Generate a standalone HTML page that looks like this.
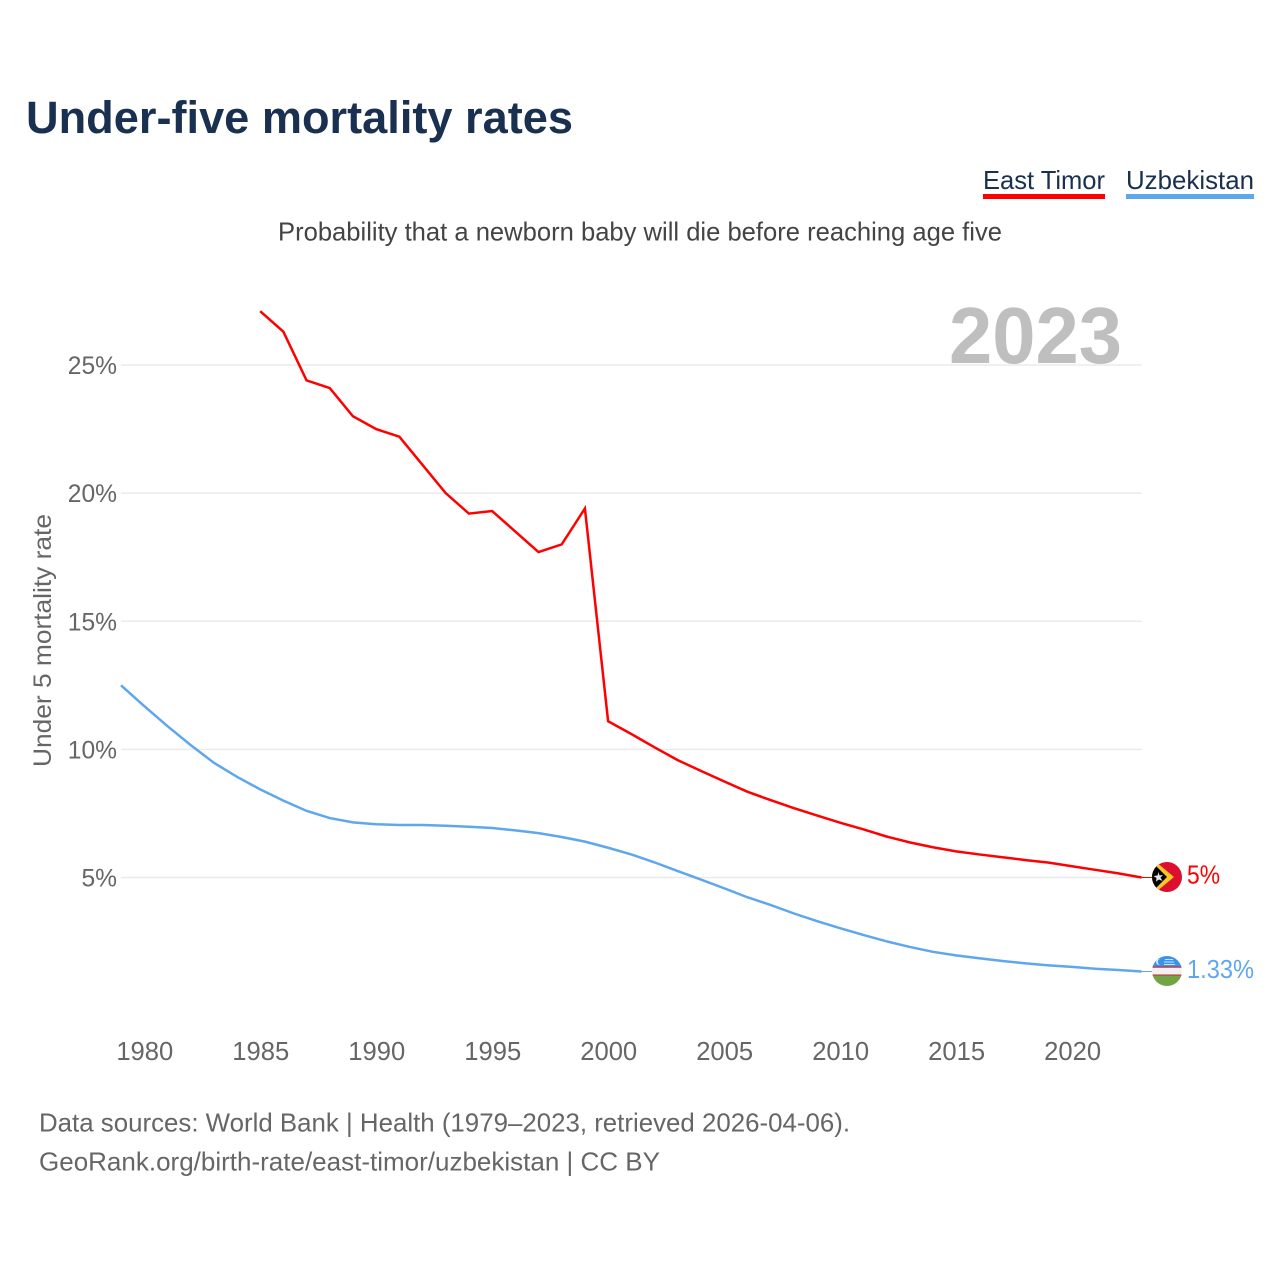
<!DOCTYPE html>
<html lang="en">
<head>
<meta charset="utf-8">
<title>Under-five mortality rates</title>
<style>
html,body{margin:0;padding:0;background:#fff;width:1280px;height:1280px;overflow:hidden}
svg{display:block}
text{font-family:"Liberation Sans",sans-serif}
</style>
</head>
<body>
<svg id="chart" xmlns="http://www.w3.org/2000/svg" width="1280" height="1280" viewBox="0 0 1280 1280">
  <defs>
    <clipPath id="flag-clip-tl"><circle cx="1167" cy="877" r="15"/></clipPath>
    <clipPath id="flag-clip-uz"><circle cx="1167" cy="971" r="15"/></clipPath>
  </defs>
  <text x="26" y="133" font-size="45" font-weight="700" fill="#1a3050" textLength="547" lengthAdjust="spacingAndGlyphs">Under-five mortality rates</text>
  <g>
    <text x="983" y="189" font-size="26" fill="#1a3050" textLength="122" lengthAdjust="spacingAndGlyphs">East Timor</text>
    <rect x="983" y="194" width="122" height="5" fill="#ff0000"/>
  </g>
  <g>
    <text x="1126" y="189" font-size="26" fill="#1a3050" textLength="128" lengthAdjust="spacingAndGlyphs">Uzbekistan</text>
    <rect x="1126" y="194" width="128" height="5" fill="#5ea7ee"/>
  </g>
  <text x="278" y="240.5" font-size="26" fill="#444444" textLength="724" lengthAdjust="spacingAndGlyphs">Probability that a newborn baby will die before reaching age five</text>
  <g id="grid"></g>
  <g id="yticks"></g>
  <g id="xticks"></g>
  <text x="949" y="363" font-size="80" font-weight="700" fill="#bfbfbf" textLength="173" lengthAdjust="spacingAndGlyphs">2023</text>
  <text transform="translate(51,767) rotate(-90)" x="0" y="0" font-size="25" fill="#666666" textLength="253" lengthAdjust="spacingAndGlyphs">Under 5 mortality rate</text>
  <g id="series"></g>

  <g clip-path="url(#flag-clip-tl)">
    <rect x="1150" y="860" width="34" height="34" fill="#dc0f2f"/>
    <polygon points="1150,857 1174,877 1150,897" fill="#ffc726"/>
    <polygon points="1150,860 1167,877 1150,894" fill="#000000"/>
    <polygon points="1158.5,872 1159.5,875.5 1163,875 1160.5,877.5 1162.5,881 1159,879.5 1156,881.5 1156.5,878 1153.5,876 1157.5,875.5" fill="#e6e6e6"/>
  </g>
  <g clip-path="url(#flag-clip-uz)">
    <rect x="1150" y="954" width="34" height="13" fill="#3a93ea"/>
    <rect x="1150" y="967" width="34" height="8" fill="#f4f0f0"/>
    <rect x="1150" y="966.5" width="34" height="1.2" fill="#c8243a"/>
    <rect x="1150" y="974.5" width="34" height="1.2" fill="#c8243a"/>
    <rect x="1150" y="975.5" width="34" height="12" fill="#6fa544"/>
    <circle cx="1159" cy="962" r="2.8" fill="#ffffff"/>
    <circle cx="1160.2" cy="962" r="2.6" fill="#3a93ea"/>
    <rect x="1165" y="959" width="8" height="1" fill="#cfe3f8"/>
    <rect x="1164" y="961.5" width="10" height="1" fill="#cfe3f8"/>
    <rect x="1164" y="964" width="11" height="1" fill="#cfe3f8"/>
  </g>
  <text x="1187" y="883.5" font-size="25.5" fill="#ff0000" textLength="33" lengthAdjust="spacingAndGlyphs">5%</text>
  <text x="1187" y="978" font-size="25.5" fill="#5ea7ee" textLength="67" lengthAdjust="spacingAndGlyphs">1.33%</text>

  <text x="39" y="1131.5" font-size="26" fill="#666666" textLength="811" lengthAdjust="spacingAndGlyphs">Data sources: World Bank | Health (1979–2023, retrieved 2026-04-06).</text>
  <text x="39" y="1170.5" font-size="26" fill="#666666" textLength="621" lengthAdjust="spacingAndGlyphs">GeoRank.org/birth-rate/east-timor/uzbekistan | CC BY</text>
</svg>
<script>
var yTickValues = [5, 10, 15, 20, 25];
var yTickLabels = ['5%', '10%', '15%', '20%', '25%'];
var xTickYears = [1980, 1985, 1990, 1995, 2000, 2005, 2010, 2015, 2020];
var xTickLabels = ['1980', '1985', '1990', '1995', '2000', '2005', '2010', '2015', '2020'];
var eastTimorStartYear = 1985;
var eastTimorValues = [27.1, 26.3, 24.4, 24.1, 23.0, 22.5, 22.2, 21.1, 20.0, 19.2, 19.3, 18.5, 17.7, 18.0, 19.4, 11.1, 10.6, 10.08, 9.58, 9.16, 8.75, 8.35, 8.02, 7.71, 7.42, 7.14, 6.88, 6.6, 6.37, 6.18, 6.02, 5.9, 5.79, 5.68, 5.58, 5.44, 5.3, 5.16, 5.0];
var uzbekistanStartYear = 1979;
var uzbekistanValues = [12.5, 11.69, 10.91, 10.17, 9.48, 8.93, 8.44, 8.0, 7.6, 7.32, 7.15, 7.08, 7.05, 7.05, 7.02, 6.98, 6.93, 6.84, 6.73, 6.58, 6.4, 6.16, 5.9, 5.59, 5.25, 4.92, 4.58, 4.23, 3.93, 3.6, 3.3, 3.02, 2.76, 2.51, 2.29, 2.1, 1.96, 1.85, 1.74, 1.65, 1.57, 1.51, 1.44, 1.39, 1.33];

var NS = 'http://www.w3.org/2000/svg';
function xScale(year) { return 121 + (year - 1979) * (1141.6 - 121) / 44; }
function yScale(value) { return 877.5 - (value - 5) * (877.5 - 365) / 20; }
function linePath(startYear, values) {
  return values.map(function (v, i) {
    return (i ? 'L' : 'M') + xScale(startYear + i).toFixed(2) + ' ' + yScale(v).toFixed(2);
  }).join(' ');
}

var gridGroup = document.getElementById('grid');
var yGroup = document.getElementById('yticks');
yTickValues.forEach(function (v, i) {
  var gridLine = document.createElementNS(NS, 'line');
  
  
  gridLine.setAttribute('x1', 121);
  gridLine.setAttribute('x2', 1141.6);
  gridLine.setAttribute('y1', yScale(v));
  gridLine.setAttribute('y2', yScale(v));
  gridLine.setAttribute('stroke', '#ebebeb');
  gridLine.setAttribute('stroke-width', 1.5);
  gridGroup.appendChild(gridLine);

  var yLabel = document.createElementNS(NS, 'text');
  
  
  yLabel.setAttribute('x', 117);
  yLabel.setAttribute('y', yScale(v) + 9);
  yLabel.setAttribute('text-anchor', 'end');
  yLabel.setAttribute('font-size', 24.6);
  yLabel.setAttribute('fill', '#666666');
  yLabel.textContent = yTickLabels[i];
  yGroup.appendChild(yLabel);
});

var xGroup = document.getElementById('xticks');
xTickYears.forEach(function (year, i) {
  var xLabel = document.createElementNS(NS, 'text');
  
  
  xLabel.setAttribute('x', xScale(year) + 0.6);
  xLabel.setAttribute('y', 1060);
  xLabel.setAttribute('text-anchor', 'middle');
  xLabel.setAttribute('font-size', 25.6);
  xLabel.setAttribute('fill', '#666666');
  xLabel.textContent = xTickLabels[i];
  xGroup.appendChild(xLabel);
});

var seriesGroup = document.getElementById('series');

var eastTimorLine = document.createElementNS(NS, 'path');


eastTimorLine.setAttribute('d', linePath(eastTimorStartYear, eastTimorValues));
eastTimorLine.setAttribute('fill', 'none');
eastTimorLine.setAttribute('stroke', '#ff0000');
eastTimorLine.setAttribute('stroke-width', 2.5);
eastTimorLine.setAttribute('stroke-linejoin', 'miter');
seriesGroup.appendChild(eastTimorLine);

var uzbekistanLine = document.createElementNS(NS, 'path');


uzbekistanLine.setAttribute('d', linePath(uzbekistanStartYear, uzbekistanValues));
uzbekistanLine.setAttribute('fill', 'none');
uzbekistanLine.setAttribute('stroke', '#5ea7ee');
uzbekistanLine.setAttribute('stroke-width', 2.5);
uzbekistanLine.setAttribute('stroke-linejoin', 'miter');
seriesGroup.appendChild(uzbekistanLine);

var eastTimorLeader = document.createElementNS(NS, 'line');


eastTimorLeader.setAttribute('x1', xScale(2023));
eastTimorLeader.setAttribute('x2', 1152);
eastTimorLeader.setAttribute('y1', yScale(eastTimorValues[eastTimorValues.length - 1]));
eastTimorLeader.setAttribute('y2', yScale(eastTimorValues[eastTimorValues.length - 1]));
eastTimorLeader.setAttribute('stroke', '#ff0000');
eastTimorLeader.setAttribute('stroke-width', 1);
seriesGroup.appendChild(eastTimorLeader);

var uzbekistanLeader = document.createElementNS(NS, 'line');


uzbekistanLeader.setAttribute('x1', xScale(2023));
uzbekistanLeader.setAttribute('x2', 1152);
uzbekistanLeader.setAttribute('y1', yScale(uzbekistanValues[uzbekistanValues.length - 1]));
uzbekistanLeader.setAttribute('y2', yScale(uzbekistanValues[uzbekistanValues.length - 1]));
uzbekistanLeader.setAttribute('stroke', '#5ea7ee');
uzbekistanLeader.setAttribute('stroke-width', 1);
seriesGroup.appendChild(uzbekistanLeader);
</script>
</body>
</html>
